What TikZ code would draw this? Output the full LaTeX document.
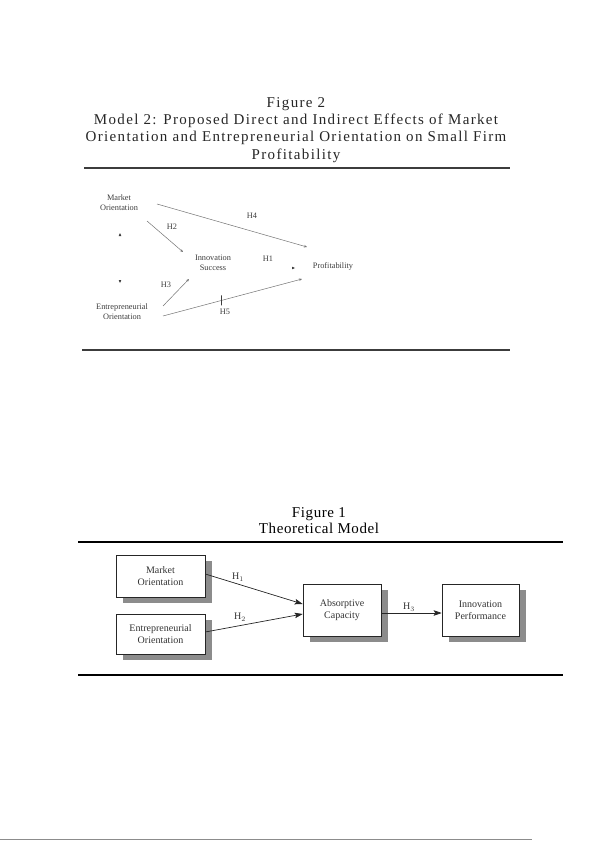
\documentclass[tikz,border=0pt]{standalone}
\usepackage{fontspec}
\setmainfont{Liberation Serif}
\newfontfamily\capfont[LetterSpace=9]{Liberation Serif}
\newfontfamily\headfont[LetterSpace=4]{Liberation Serif}
\usetikzlibrary{shapes.geometric, arrows.meta, positioning, shadows}
\definecolor{boxshade}{RGB}{140, 140, 140}
\definecolor{pathgray}{RGB}{115, 115, 115}
\definecolor{inkgray}{RGB}{60, 60, 60}

\begin{document}
\begin{tikzpicture}[x=1pt, y=-1pt,
		smalltext/.style={font=\fontsize{8.3}{10}\selectfont, text=inkgray, align=center, inner sep=0pt},
		smallpath/.style={pathgray, line width=0.5pt, -{Stealth[length=3pt, width=2.6pt]}},
		modelbox/.style={draw=black!85, line width=0.6pt, fill=white, align=center,
			font=\fontsize{10}{12}\selectfont, text=black!80, minimum width=89pt, minimum height=41pt,
			drop shadow={shadow xshift=7pt, shadow yshift=-6pt, fill=boxshade, opacity=1}},
		modelpath/.style={black!85, line width=0.7pt, -{Stealth[length=8pt, width=5.5pt, inset=1.5pt]}},
		hlabel/.style={font=\fontsize{10}{12}\selectfont, text=black!80, inner sep=0pt}]
	\useasboundingbox (0,0) rectangle (595,842);

	% Figure 2 caption and rules
	\node[align=center, font=\fontsize{15}{17.3}\selectfont\capfont, text=black!85] (cap2) at (296,130)
		{Figure 2\\Model 2: Proposed Direct and Indirect Effects of Market\\Orientation and Entrepreneurial Orientation on Small Firm\\Profitability};
	\draw[inkgray, line width=1.4pt] (84,168) -- (510,168);
	\draw[inkgray, line width=1.4pt] (82,350) -- (510,350);

	% Figure 2 constructs
	\node[smalltext] (mo2) at (119,203) {Market\\Orientation};
	\node[smalltext] (eo2) at (122,312) {Entrepreneurial\\Orientation};
	\node[smalltext] (is2) at (213,263) {Innovation\\Success};
	\node[smalltext] (pr2) at (333,266) {Profitability};

	% Figure 2 paths
	\draw[smallpath] ([shift={(38,1)}]mo2.center) -- ([shift={(-26,-19)}]pr2.center);
	\draw[smallpath] ([shift={(28,18)}]mo2.center) -- ([shift={(-30,-11)}]is2.center);
	\draw[smallpath] ([shift={(41,-6)}]eo2.center) -- ([shift={(-24,16)}]is2.center);
	\draw[smallpath] ([shift={(41,4)}]eo2.center) -- node[pos=0.42, draw=inkgray, line width=0.8pt, minimum height=10pt, minimum width=0pt, inner sep=0pt] (tick5) {} ([shift={(-31,13)}]pr2.center);

	% Lone arrow tips (lines not printed)
	\foreach \tx/\ty/\ang in {120/233/90, 120/283/-90, 295/268/0}
		\fill[inkgray, shift={(\tx,\ty)}, rotate=\ang] (0,0) -- (-3,1.3) -- (-3,-1.3) -- cycle;

	% Figure 2 hypothesis labels
	\node[smalltext] (h4) at (252,216) {H4};
	\node[smalltext] (h2) at (172,227) {H2};
	\node[smalltext] (h1) at (268,259) {H1};
	\node[smalltext] (h3) at (166,285) {H3};
	\node[smalltext] (h5) at (225,312) {H5};

	% Figure 1 caption and rules
	\node[align=center, font=\fontsize{15}{16}\selectfont\headfont, text=black] (cap1) at (319,521)
		{Figure 1\\Theoretical Model};
	\draw[black, line width=1.1pt] (78,542) -- (563,542);
	\draw[black, line width=1.1pt] (78,675) -- (563,675);

	% Figure 1 boxes
	\node[modelbox, minimum height=42pt] (mo) at (160.5,576) {Market\\Orientation};
	\node[modelbox, minimum height=40pt] (eo) at (160.5,634) {Entrepreneurial\\Orientation};
	\node[modelbox, minimum width=78pt, minimum height=52pt] (ac) at (342,610) {Absorptive\\Capacity};
	\node[modelbox, minimum width=77pt, minimum height=52pt] (ip) at (480.5,610) {Innovation\\Performance};

	% Figure 1 hypotheses
	\draw[modelpath] ([yshift=2pt]mo.east) -- ([yshift=6pt]ac.west);
	\draw[modelpath] ([yshift=2pt]eo.east) -- ([yshift=-4pt]ac.west);
	\draw[modelpath] ([yshift=-3pt]ac.east) -- ([yshift=-3pt]ip.west);
	\node[hlabel] (hh1) at (238,577) {H$_1$};
	\node[hlabel] (hh2) at (240,617) {H$_2$};
	\node[hlabel] (hh3) at (409,607) {H$_3$};

	% Page foot rule
	\draw[boxshade, line width=0.8pt] (0,839) -- (532,839);
\end{tikzpicture}
\end{document}
